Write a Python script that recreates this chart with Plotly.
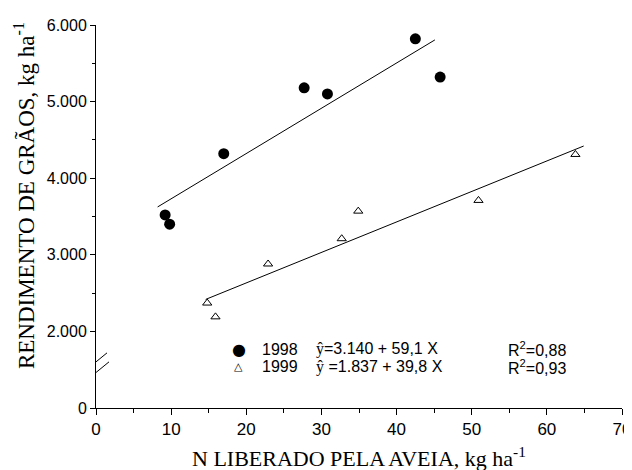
import numpy as np
import plotly.graph_objects as go

# ---- data ----
x_1998 = [9.2, 9.8, 17.0, 27.7, 30.8, 42.5, 45.8]
y_1998 = [3520, 3400, 4320, 5180, 5100, 5820, 5320]
x_1999 = [14.8, 15.9, 22.9, 32.7, 34.9, 50.9, 63.8]
y_1999 = [2370, 2190, 2880, 3210, 3570, 3710, 4310]

# fitted equations  y = a + b X  and x-range over which each line is drawn
fit_a = [3140, 1837]
fit_b = [59.1, 39.8]
fit_range_1998 = [8.2, 45.1]
fit_range_1999 = [14.6, 64.9]

# axis ticks (0 drawn below an axis break)
y_tickvals = [1000, 2000, 3000, 4000, 5000, 6000]
y_ticktext = ["0", "2.000", "3.000", "4.000", "5.000", "6.000"]
y_minor = [2500, 3500, 4500, 5500]
x_ticks = [0, 10, 20, 30, 40, 50, 60, 70]

legend_years = ["1998", "1999"]
legend_eq = ["=3.140 + 59,1 X", " =1.837 + 39,8 X"]
legend_r2 = ["0,88", "0,93"]

SANS = "Liberation Sans, Arial, sans-serif"
SERIF = "Liberation Serif, Times New Roman, serif"

fig = go.Figure()

fig.add_trace(go.Scatter(x=x_1998, y=y_1998, mode="markers",
                         marker=dict(symbol="circle", size=11, color="black"),
                         showlegend=False))
fig.add_trace(go.Scatter(x=x_1999, y=y_1999, mode="markers",
                         marker=dict(symbol="triangle-up-open", size=8, color="black",
                                     line=dict(width=1, color="black")),
                         showlegend=False))

for rng, a, b in [(fit_range_1998, fit_a[0], fit_b[0]), (fit_range_1999, fit_a[1], fit_b[1])]:
    xs = np.array(rng)
    fig.add_trace(go.Scatter(x=xs, y=a + b * xs, mode="lines",
                             line=dict(color="black", width=1), showlegend=False))

# axis break on the y axis
brk = 1550
fig.add_shape(type="rect", xref="x", yref="y", xsizemode="pixel", ysizemode="pixel",
              xanchor=0, yanchor=brk, x0=-3, x1=3, y0=-17, y1=10,
              fillcolor="white", line=dict(width=0), layer="above")
fig.add_shape(type="line", xref="x", yref="y", xsizemode="pixel", ysizemode="pixel",
              xanchor=0, yanchor=brk, x0=-11, x1=11, y0=-5, y1=13,
              line=dict(color="black", width=1), layer="above")
fig.add_shape(type="line", xref="x", yref="y", xsizemode="pixel", ysizemode="pixel",
              xanchor=0, yanchor=brk, x0=-9, x1=13, y0=-14, y1=4,
              line=dict(color="black", width=1), layer="above")

# legend block as text
rows_y = [0.1535, 0.1074]
symbols = [("●", 16), ("△", 11)]
for i in range(2):
    fig.add_annotation(xref="paper", yref="paper", x=0.2716, y=rows_y[i], showarrow=False,
                       text=symbols[i][0], xanchor="center", yanchor="middle",
                       font=dict(family="DejaVu Sans", size=symbols[i][1], color="black"))
    fig.add_annotation(xref="paper", yref="paper", x=0.3111, y=rows_y[i], showarrow=False,
                       text=legend_years[i], xanchor="left", yanchor="middle",
                       font=dict(family=SANS, size=16, color="black"))
    fig.add_annotation(xref="paper", yref="paper", x=0.4145, y=rows_y[i], showarrow=False,
                       text='<span style="font-family:Liberation Serif">ŷ</span>' + legend_eq[i],
                       xanchor="left", yanchor="middle",
                       font=dict(family=SANS, size=16, color="black"))
    fig.add_annotation(xref="paper", yref="paper", x=0.779, y=rows_y[i], showarrow=False,
                       text="R<sup>2</sup>=" + legend_r2[i], xanchor="left", yanchor="middle",
                       font=dict(family=SANS, size=16, color="black"))

# axis titles as annotations
fig.add_annotation(xref="paper", yref="paper", x=-0.1344, y=0.554, showarrow=False,
                   text="RENDIMENTO DE GRÃOS, kg ha<sup>-1</sup>", textangle=-90,
                   xanchor="center", yanchor="middle",
                   font=dict(family=SERIF, size=23, color="black"))
fig.add_annotation(xref="paper", yref="paper", x=0.5, y=-0.128, showarrow=False,
                   text="N LIBERADO PELA AVEIA, kg ha<sup>-1</sup>",
                   xanchor="center", yanchor="middle",
                   font=dict(family=SERIF, size=22, color="black"))

# the page body has an 8px margin; the plot area is placed to match the window
fig.update_layout(
    width=632, height=470,
    margin=dict(l=87.5, r=12.5, t=9, b=70),
    plot_bgcolor="white", paper_bgcolor="white",
    showlegend=False,
    xaxis=dict(range=[0, 70], tickvals=x_ticks, showgrid=False, zeroline=False,
               showline=True, linecolor="black", linewidth=1,
               ticks="outside", ticklen=6, tickwidth=1, tickcolor="black",
               minor=dict(dtick=5, ticks="outside", ticklen=4, tickcolor="black", tickwidth=1),
               tickfont=dict(family=SANS, size=17, color="black")),
    yaxis=dict(range=[1000, 6000], tickvals=y_tickvals, ticktext=y_ticktext,
               showgrid=False, zeroline=False,
               showline=True, linecolor="black", linewidth=1,
               ticks="outside", ticklen=5, tickwidth=1, tickcolor="black",
               minor=dict(tickvals=y_minor, ticks="outside", ticklen=3, tickcolor="black", tickwidth=1),
               tickfont=dict(family=SANS, size=16, color="black")),
)

fig.write_html("out.html")
